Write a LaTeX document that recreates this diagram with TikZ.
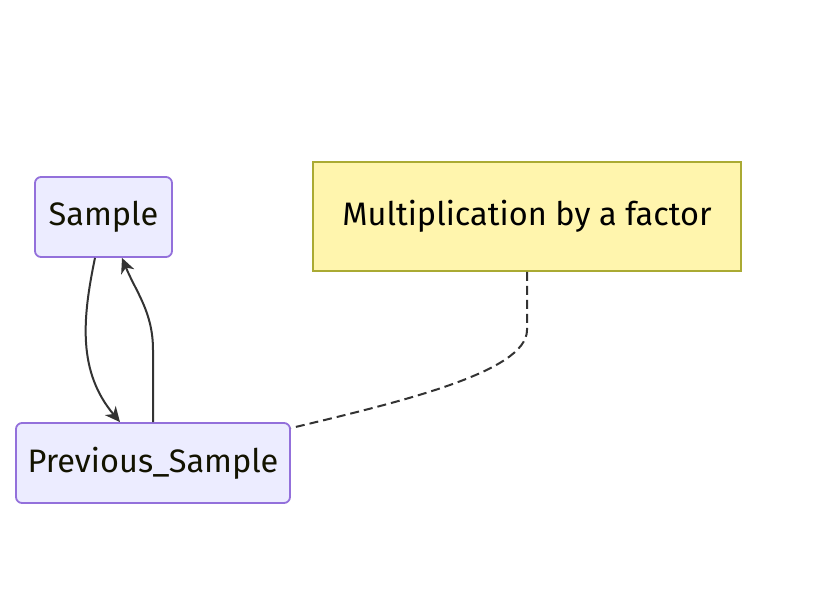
\documentclass[tikz,border=0pt]{standalone}
\usepackage{fontspec}
\setmainfont{Fira Sans}
\usetikzlibrary{arrows.meta}
\definecolor{nodefill}{HTML}{ECECFF}
\definecolor{nodeborder}{HTML}{9370DB}
\definecolor{notefill}{HTML}{FFF5AD}
\definecolor{noteborder}{HTML}{AAAA33}
\definecolor{edgecol}{HTML}{333333}
\definecolor{textcol}{HTML}{131300}
\tikzset{
  nodebox/.style={draw=nodeborder, fill=nodefill, line width=1.8pt, rounded corners=6pt,
    font=\fontsize{32.5}{38}\selectfont, text=textcol, inner sep=0pt, align=center},
  notebox/.style={draw=noteborder, fill=notefill, line width=1.8pt,
    font=\fontsize{32.5}{38}\selectfont, text=black, inner sep=0pt, align=center},
  edge/.style={draw=edgecol, line width=2pt, -{Stealth[length=15pt,width=14pt,inset=4.5pt]}},
  noteedge/.style={draw=edgecol, line width=2pt, dash pattern=on 9pt off 5pt},
}
\begin{document}
\begin{tikzpicture}[x=1pt,y=-1pt]
\useasboundingbox (0,0) rectangle (828,616);
\node[nodebox, minimum width=137pt, minimum height=80pt] (s) at (103.5,217) {Sample};
\node[nodebox, minimum width=274pt, minimum height=80pt] (p) at (153,463) {Previous\_Sample};
\node[notebox, minimum width=428pt, minimum height=109pt] (m) at (527,216.5) {Multiplication by a factor};
\draw[edge] ([xshift=-8.5pt]s.south) .. controls (82,320) and (78,372) .. ([xshift=-33pt]p.north);
\draw[edge] (p.north) -- (153,350) .. controls (153,312) and (136,292) .. ([xshift=18.5pt]s.south);
\draw[noteedge] (m.south) -- (527,330) .. controls (527,372) and (400,402) .. ([yshift=-6pt]p.north east);
\end{tikzpicture}
\end{document}
